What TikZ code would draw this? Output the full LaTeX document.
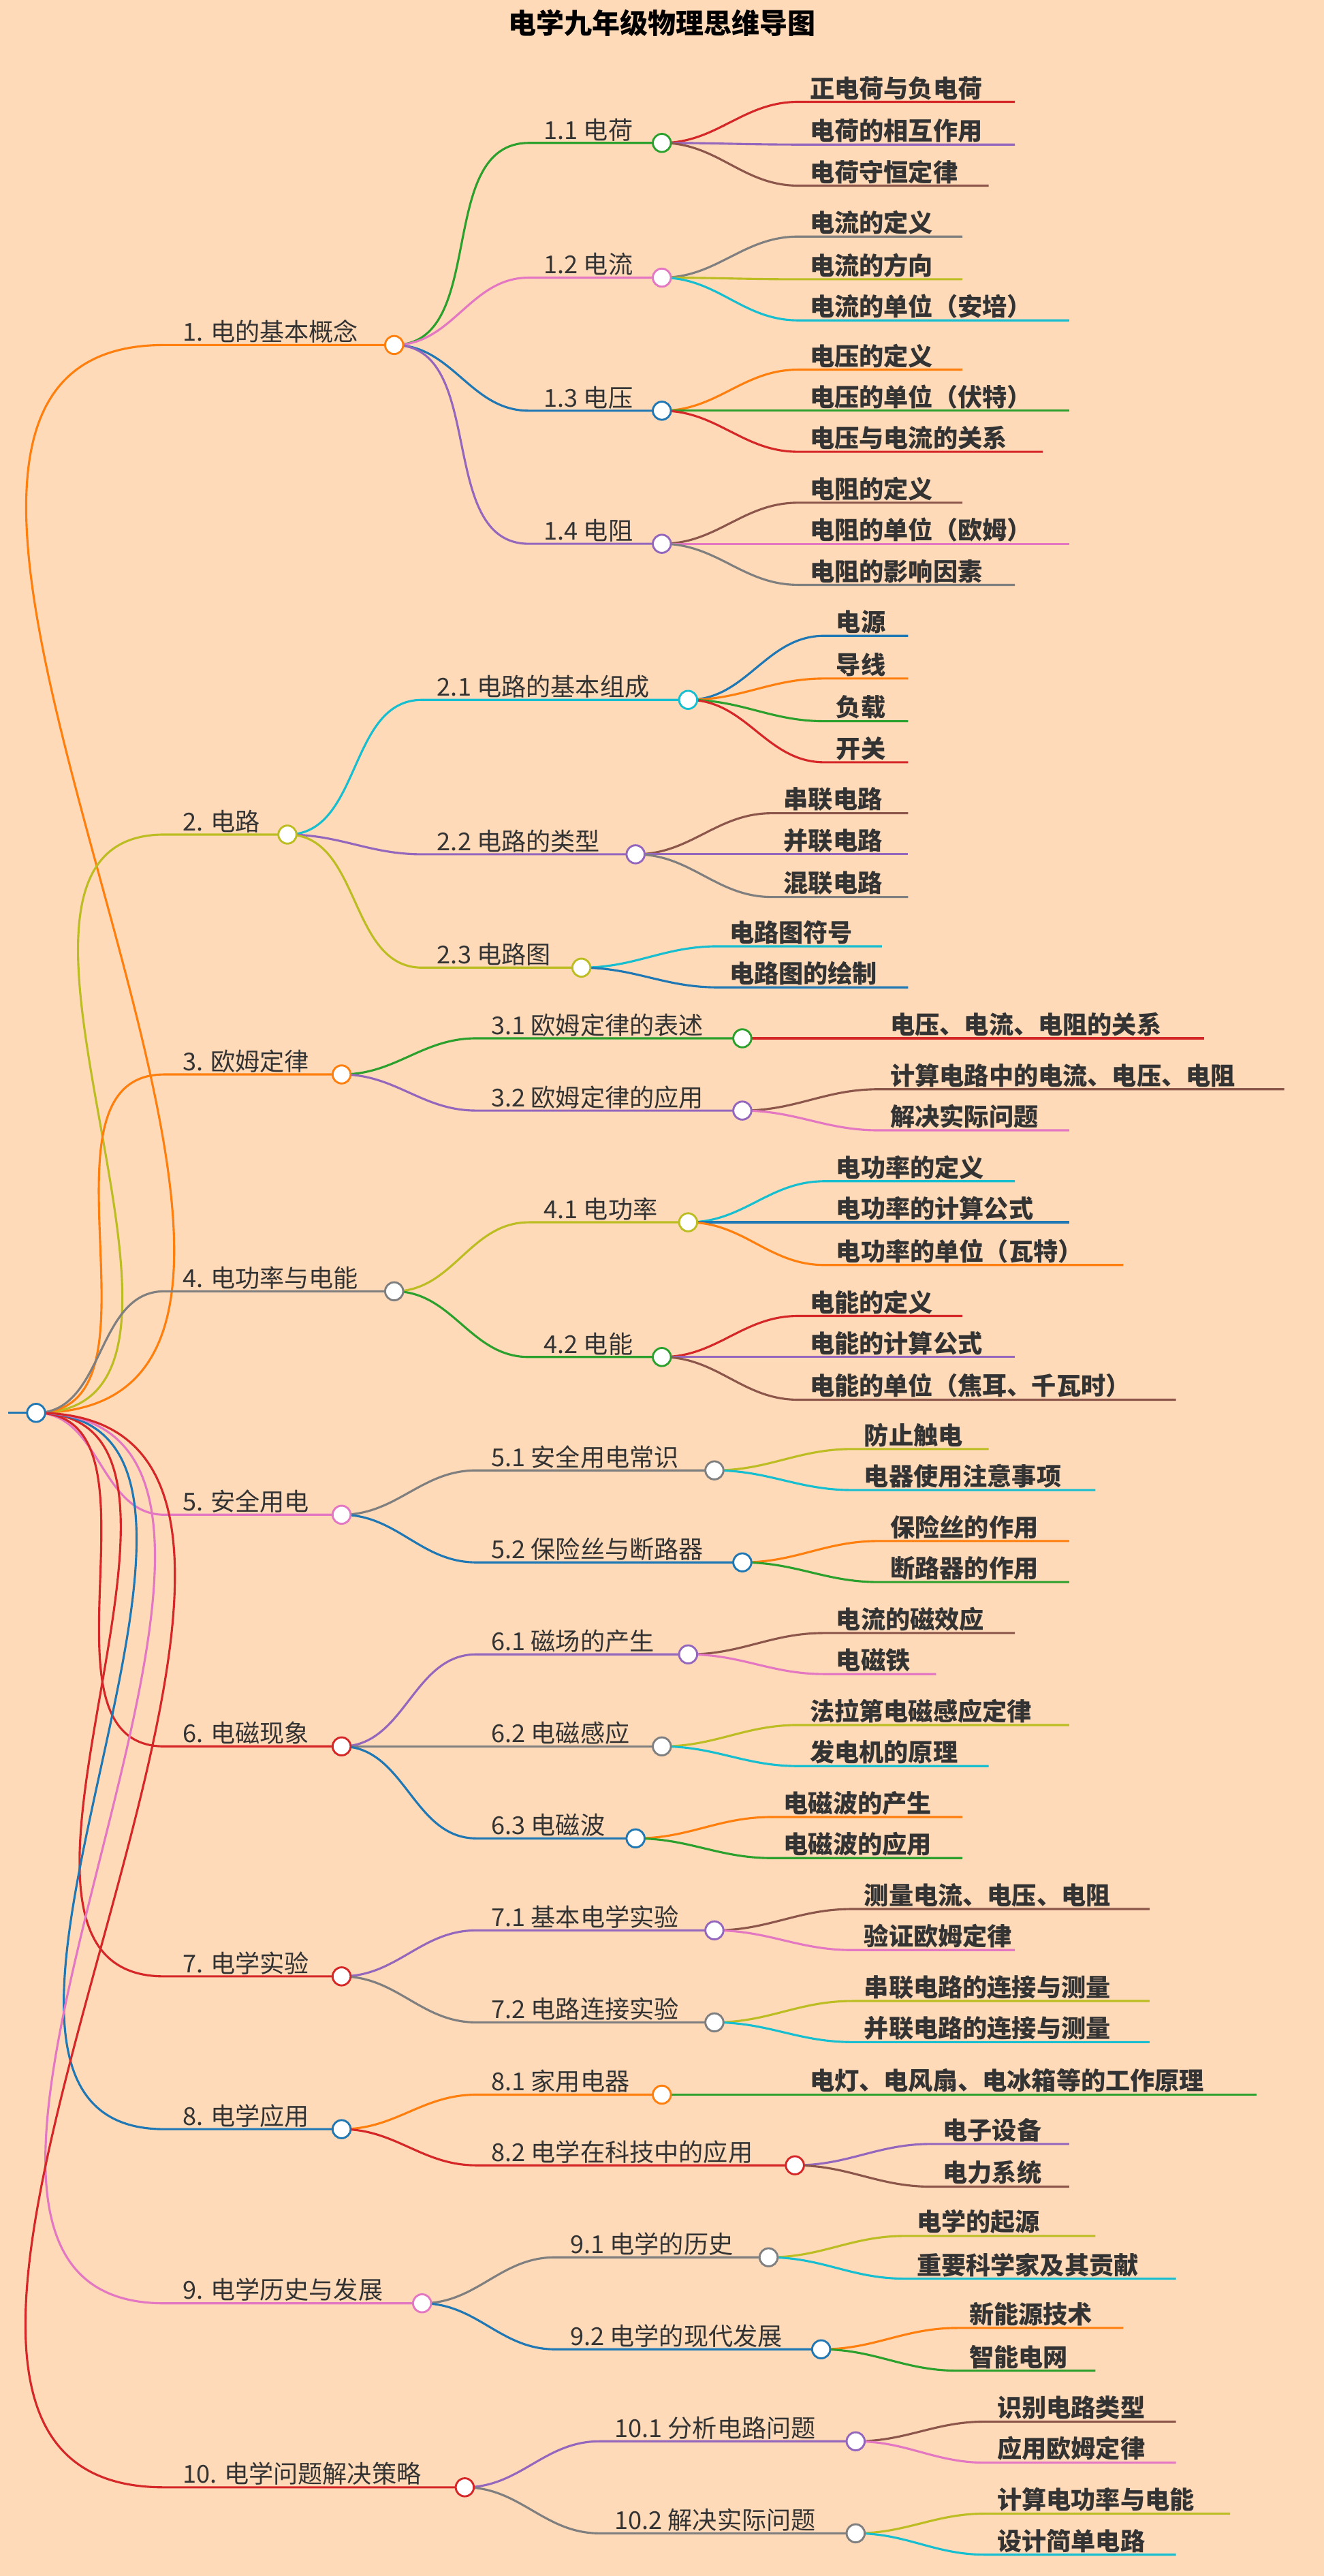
\documentclass[tikz,border=0pt]{standalone}
\usepackage{fontspec}
\setmainfont{Noto Sans CJK SC}
\usetikzlibrary{positioning}
\definecolor{cOrange}{HTML}{FF7F0E}
\definecolor{cOlive}{HTML}{BCBD22}
\definecolor{cGray}{HTML}{7F7F7F}
\definecolor{cPink}{HTML}{E377C2}
\definecolor{cRed}{HTML}{D62728}
\definecolor{cBlue}{HTML}{1F77B4}
\definecolor{cGreen}{HTML}{2CA02C}
\definecolor{cPurple}{HTML}{9467BD}
\definecolor{cBrown}{HTML}{8C564B}
\definecolor{cCyan}{HTML}{17BECF}
\definecolor{bg}{HTML}{FFDAB9}
\definecolor{txt}{HTML}{333333}

\tikzset{
  EdgeStyle/.style = {line width=1.3pt},
  LabelStyle/.style = {text=txt, inner sep=1pt, anchor=south west,
    font=\fontsize{15}{18}\selectfont},
  LeafStyle/.style = {text=txt, inner sep=1pt, anchor=south west,
    font=\fontsize{15}{18}\selectfont\bfseries},
  DotStyle/.style = {circle, draw=#1, fill=white, line width=1.2pt,
    minimum size=11pt, inner sep=0pt}
}
% topic: name, colour, y, circle x, text
\newcommand\topic[5]{%
  \coordinate (#1-s) at (100,#3); \coordinate (#1) at (#4,#3);
  \draw[#2,EdgeStyle] (root) to[out=0,in=180] (#1-s) -- (#1);
  \node[LabelStyle] (#1-t) at (110,#3) {#5};}
% sub: parent, name, colour, start x, circle x, y, text
\newcommand\sub[7]{%
  \coordinate (#2-s) at (#4,#6); \coordinate (#2) at (#5,#6);
  \draw[#3,EdgeStyle] (#1) to[out=0,in=180] (#2-s) -- (#2);
  \node[LabelStyle] (#2-t) at (#4+8,#6) {#7};}
% leaf: parent, name, colour, text x, end x, y, text
\newcommand\leaf[7]{%
  \coordinate (#2-s) at (#4-8,#6); \coordinate (#2-e) at (#5,#6);
  \draw[#3,EdgeStyle] (#1) to[out=0,in=180] (#2-s) -- (#2-e);
  \node[LeafStyle] (#2) at (#4-2,#6) {#7};}

\begin{document}
\begin{tikzpicture}[x=1pt,y=-1pt]
  \fill[bg] (0,0) rectangle (806,1568);
  \useasboundingbox (0,0) rectangle (806,1568);

  \node[text=black,font=\fontsize{17}{20}\selectfont\bfseries] (title) at (403,14) {电学九年级物理思维导图};

  \coordinate (root) at (22,860);
  \coordinate (root-w) at (5,860);
  \draw[cBlue,EdgeStyle] (root-w) -- (root);

  \topic{t1}{cOrange}{210}{240}{1. 电的基本概念}
  \topic{t2}{cOlive}{508}{175}{2. 电路}
  \topic{t3}{cOrange}{654}{208}{3. 欧姆定律}
  \topic{t4}{cGray}{786}{240}{4. 电功率与电能}
  \topic{t5}{cPink}{922}{208}{5. 安全用电}
  \topic{t6}{cRed}{1063}{208}{6. 电磁现象}
  \topic{t7}{cRed}{1203}{208}{7. 电学实验}
  \topic{t8}{cBlue}{1296}{208}{8. 电学应用}
  \topic{t9}{cPink}{1402}{257}{9. 电学历史与发展}
  \topic{t10}{cRed}{1514}{283}{10. 电学问题解决策略}

  \sub{t1}{s11}{cGreen}{322}{403}{87}{1.1 电荷}
  \sub{t1}{s12}{cPink}{322}{403}{169}{1.2 电流}
  \sub{t1}{s13}{cBlue}{322}{403}{250}{1.3 电压}
  \sub{t1}{s14}{cPurple}{322}{403}{331}{1.4 电阻}
  \sub{t2}{s21}{cCyan}{257}{419}{426}{2.1 电路的基本组成}
  \sub{t2}{s22}{cPurple}{257}{387}{520}{2.2 电路的类型}
  \sub{t2}{s23}{cOlive}{257}{354}{589}{2.3 电路图}
  \sub{t3}{s31}{cGreen}{290}{452}{632}{3.1 欧姆定律的表述}
  \sub{t3}{s32}{cPurple}{290}{452}{676}{3.2 欧姆定律的应用}
  \sub{t4}{s41}{cOlive}{322}{419}{744}{4.1 电功率}
  \sub{t4}{s42}{cGreen}{322}{403}{826}{4.2 电能}
  \sub{t5}{s51}{cGray}{290}{435}{895}{5.1 安全用电常识}
  \sub{t5}{s52}{cBlue}{290}{452}{951}{5.2 保险丝与断路器}
  \sub{t6}{s61}{cPurple}{290}{419}{1007}{6.1 磁场的产生}
  \sub{t6}{s62}{cGray}{290}{403}{1063}{6.2 电磁感应}
  \sub{t6}{s63}{cBlue}{290}{387}{1119}{6.3 电磁波}
  \sub{t7}{s71}{cPurple}{290}{435}{1175}{7.1 基本电学实验}
  \sub{t7}{s72}{cGray}{290}{435}{1231}{7.2 电路连接实验}
  \sub{t8}{s81}{cOrange}{290}{403}{1275}{8.1 家用电器}
  \sub{t8}{s82}{cRed}{290}{484}{1318}{8.2 电学在科技中的应用}
  \sub{t9}{s91}{cGray}{338}{468}{1374}{9.1 电学的历史}
  \sub{t9}{s92}{cBlue}{338}{500}{1430}{9.2 电学的现代发展}
  \sub{t10}{s101}{cPurple}{365}{521}{1486}{10.1 分析电路问题}
  \sub{t10}{s102}{cGray}{365}{521}{1542}{10.2 解决实际问题}

  \leaf{s11}{l111}{cRed}{494}{618}{62}{正电荷与负电荷}
  \leaf{s11}{l112}{cPurple}{494}{618}{88}{电荷的相互作用}
  \leaf{s11}{l113}{cBrown}{494}{602}{113}{电荷守恒定律}
  \leaf{s12}{l121}{cGray}{494}{586}{144}{电流的定义}
  \leaf{s12}{l122}{cOlive}{494}{586}{170}{电流的方向}
  \leaf{s12}{l123}{cCyan}{494}{651}{195}{电流的单位（安培）}
  \leaf{s13}{l131}{cOrange}{494}{586}{225}{电压的定义}
  \leaf{s13}{l132}{cGreen}{494}{651}{250}{电压的单位（伏特）}
  \leaf{s13}{l133}{cRed}{494}{635}{275}{电压与电流的关系}
  \leaf{s14}{l141}{cBrown}{494}{586}{306}{电阻的定义}
  \leaf{s14}{l142}{cPink}{494}{651}{331}{电阻的单位（欧姆）}
  \leaf{s14}{l143}{cGray}{494}{618}{356}{电阻的影响因素}
  \leaf{s21}{l211}{cBlue}{510}{553}{387}{电源}
  \leaf{s21}{l212}{cOrange}{510}{553}{413}{导线}
  \leaf{s21}{l213}{cGreen}{510}{553}{439}{负载}
  \leaf{s21}{l214}{cRed}{510}{553}{464}{开关}
  \leaf{s22}{l221}{cBrown}{478}{553}{495}{串联电路}
  \leaf{s22}{l222}{cPurple}{478}{553}{520}{并联电路}
  \leaf{s22}{l223}{cGray}{478}{553}{546}{混联电路}
  \leaf{s23}{l231}{cCyan}{445}{537}{576}{电路图符号}
  \leaf{s23}{l232}{cBlue}{445}{553}{601}{电路图的绘制}
  \leaf{s31}{l311}{cRed}{543}{733}{632}{电压、电流、电阻的关系}
  \leaf{s32}{l321}{cBrown}{543}{782}{663}{计算电路中的电流、电压、电阻}
  \leaf{s32}{l322}{cPink}{543}{651}{688}{解决实际问题}
  \leaf{s41}{l411}{cCyan}{510}{618}{719}{电功率的定义}
  \leaf{s41}{l412}{cBlue}{510}{651}{744}{电功率的计算公式}
  \leaf{s41}{l413}{cOrange}{510}{684}{770}{电功率的单位（瓦特）}
  \leaf{s42}{l421}{cRed}{494}{586}{801}{电能的定义}
  \leaf{s42}{l422}{cPurple}{494}{618}{826}{电能的计算公式}
  \leaf{s42}{l423}{cBrown}{494}{716}{852}{电能的单位（焦耳、千瓦时）}
  \leaf{s51}{l511}{cOlive}{527}{602}{882}{防止触电}
  \leaf{s51}{l512}{cCyan}{527}{667}{907}{电器使用注意事项}
  \leaf{s52}{l521}{cOrange}{543}{651}{938}{保险丝的作用}
  \leaf{s52}{l522}{cGreen}{543}{651}{963}{断路器的作用}
  \leaf{s61}{l611}{cBrown}{510}{618}{994}{电流的磁效应}
  \leaf{s61}{l612}{cPink}{510}{570}{1019}{电磁铁}
  \leaf{s62}{l621}{cOlive}{494}{651}{1050}{法拉第电磁感应定律}
  \leaf{s62}{l622}{cCyan}{494}{602}{1075}{发电机的原理}
  \leaf{s63}{l631}{cOrange}{478}{586}{1106}{电磁波的产生}
  \leaf{s63}{l632}{cGreen}{478}{586}{1131}{电磁波的应用}
  \leaf{s71}{l711}{cBrown}{527}{700}{1162}{测量电流、电压、电阻}
  \leaf{s71}{l712}{cPink}{527}{618}{1187}{验证欧姆定律}
  \leaf{s72}{l721}{cOlive}{527}{700}{1218}{串联电路的连接与测量}
  \leaf{s72}{l722}{cCyan}{527}{700}{1243}{并联电路的连接与测量}
  \leaf{s81}{l811}{cGreen}{494}{765}{1275}{电灯、电风扇、电冰箱等的工作原理}
  \leaf{s82}{l821}{cPurple}{575}{651}{1305}{电子设备}
  \leaf{s82}{l822}{cBrown}{575}{651}{1331}{电力系统}
  \leaf{s91}{l911}{cOlive}{559}{667}{1361}{电学的起源}
  \leaf{s91}{l912}{cCyan}{559}{716}{1387}{重要科学家及其贡献}
  \leaf{s92}{l921}{cOrange}{591}{684}{1417}{新能源技术}
  \leaf{s92}{l922}{cGreen}{591}{667}{1443}{智能电网}
  \leaf{s101}{l1011}{cBrown}{608}{716}{1474}{识别电路类型}
  \leaf{s101}{l1012}{cPink}{608}{716}{1499}{应用欧姆定律}
  \leaf{s102}{l1021}{cOlive}{608}{749}{1530}{计算电功率与电能}
  \leaf{s102}{l1022}{cCyan}{608}{716}{1555}{设计简单电路}

  % circles on top
  \foreach \n/\c in {root/cBlue, t1/cOrange, t2/cOlive, t3/cOrange, t4/cGray,
      t5/cPink, t6/cRed, t7/cRed, t8/cBlue, t9/cPink, t10/cRed,
      s11/cGreen, s12/cPink, s13/cBlue, s14/cPurple, s21/cCyan, s22/cPurple,
      s23/cOlive, s31/cGreen, s32/cPurple, s41/cOlive, s42/cGreen, s51/cGray,
      s52/cBlue, s61/cPurple, s62/cGray, s63/cBlue, s71/cPurple, s72/cGray,
      s81/cOrange, s82/cRed, s91/cGray, s92/cBlue, s101/cPurple, s102/cGray}
    \node[DotStyle=\c] (\n-dot) at (\n) {};
\end{tikzpicture}
\end{document}
